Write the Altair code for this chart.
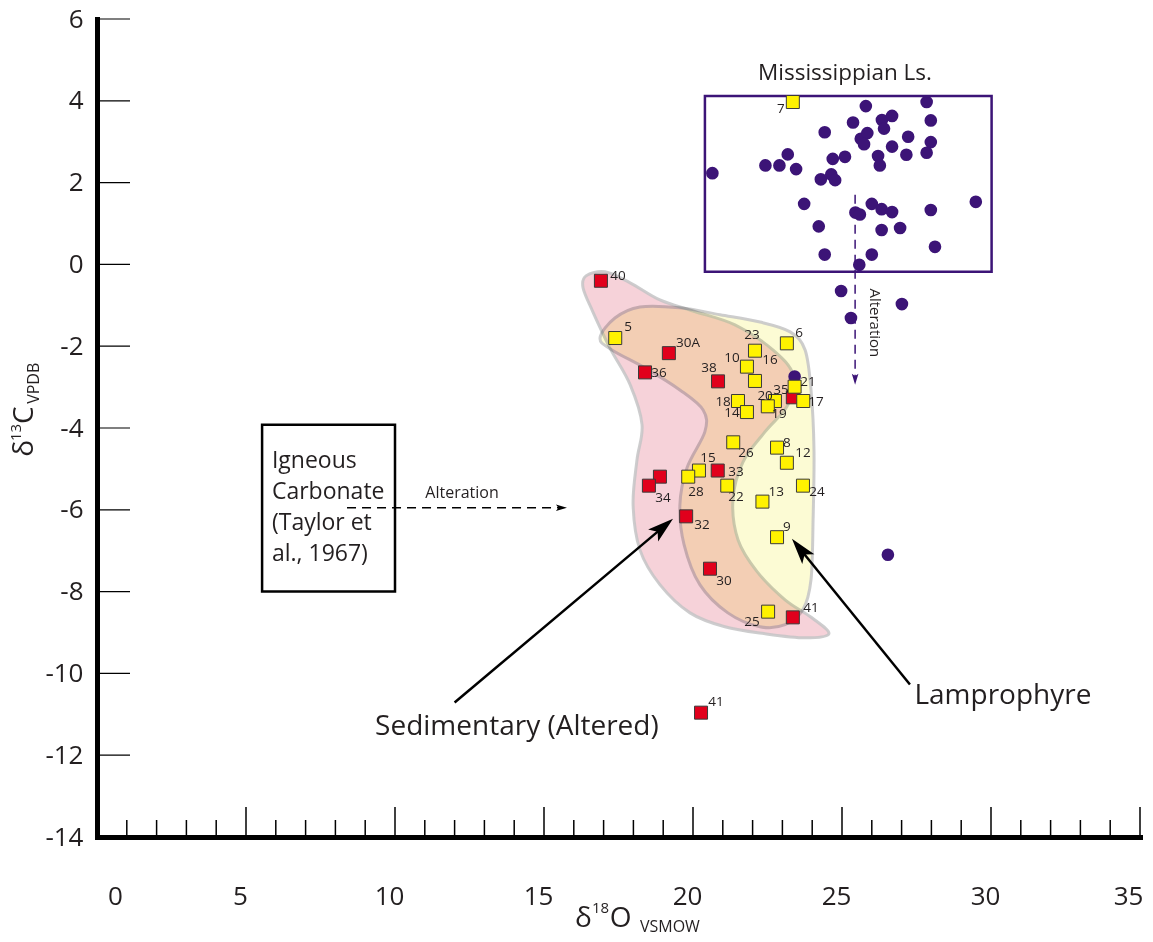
import math
import altair as alt
import pandas as pd

# ---------------- data ----------------
# Lamprophyre samples (yellow squares)
yel_id = ["5", "23", "10", "16", "6", "21", "20", "19", "17", "18", "14", "26", "8", "12",
          "15", "28", "22", "24", "13", "9", "25", "7"]
yel_x = [17.39, 22.08, 21.81, 22.08, 23.15, 23.41, 22.75, 22.51, 23.70, 21.51, 21.81, 21.35,
         22.82, 23.15, 20.20, 19.84, 21.15, 23.69, 22.33, 22.82, 22.52, 23.35]
yel_y = [-1.80, -2.11, -2.50, -2.85, -1.93, -2.99, -3.34, -3.47, -3.34, -3.34, -3.61, -4.35,
         -4.48, -4.85, -5.04, -5.19, -5.41, -5.41, -5.80, -6.67, -8.49, 3.97]

# Sedimentary (altered) samples (red squares)
red_id = ["40", "30A", "36", "38", "35", "33", "34", "34", "32", "30", "41", "41"]
red_x = [16.91, 19.19, 18.39, 20.84, 23.35, 20.83, 18.89, 18.52, 19.77, 20.57, 23.35, 20.27]
red_y = [-0.40, -2.17, -2.64, -2.86, -3.25, -5.04, -5.19, -5.41, -6.16, -7.44, -8.63, -10.96]

# Sample labels
lab_text = ["40", "5", "30A", "36", "38", "23", "10", "16", "6", "21", "35", "20", "19", "17",
            "18", "14", "26", "8", "12", "15", "28", "33", "34", "22", "24", "13", "32", "9",
            "30", "25", "41", "41", "7"]
lab_x = [17.48, 17.82, 19.83, 18.86, 20.54, 21.98, 21.31, 22.58, 23.56, 23.86, 22.95, 22.42,
         22.89, 24.13, 21.01, 21.31, 21.78, 23.15, 23.69, 20.50, 20.10, 21.44, 18.99, 21.44,
         24.16, 22.79, 20.30, 23.15, 21.04, 21.98, 23.96, 20.77, 22.95]
lab_y = [-0.28, -1.53, -1.92, -2.65, -2.53, -1.72, -2.28, -2.33, -1.67, -2.87, -3.07, -3.21,
         -3.65, -3.36, -3.36, -3.63, -4.61, -4.36, -4.61, -4.73, -5.56, -5.07, -5.71, -5.68,
         -5.56, -5.56, -6.37, -6.41, -7.73, -8.74, -8.39, -10.71, 3.80]

# Mississippian limestone (purple circles)
circ_x = [20.65, 22.43, 22.90, 23.18, 23.46, 24.42, 24.69, 25.10, 24.29, 24.64, 24.77, 25.37,
          25.80, 26.34, 26.68, 26.41, 25.63, 25.85, 25.74, 26.21, 26.27, 26.68, 27.22, 27.16,
          27.84, 27.98, 27.98, 27.84, 23.73, 24.22, 24.42, 25.58, 26.00, 26.00, 25.45, 25.60,
          26.33, 26.68, 26.33, 26.95, 27.98, 28.12, 29.49, 24.97, 25.30, 27.01, 26.54, 23.41]
circ_y = [2.23, 2.42, 2.42, 2.69, 2.33, 3.23, 2.58, 2.63, 2.08, 2.20, 2.06, 3.47,
          3.87, 3.53, 3.63, 3.32, 3.07, 3.21, 2.94, 2.65, 2.42, 2.88, 3.12, 2.68,
          3.97, 3.52, 2.99, 2.73, 1.48, 0.93, 0.24, -0.01, 0.24, 1.48, 1.27, 1.22,
          1.35, 1.28, 0.84, 0.89, 1.33, 0.43, 1.53, -0.65, -1.31, -0.97, -7.10, -2.74]

# Field outlines
sed_x = [16.41, 17.05, 17.89, 18.89, 20.00, 21.41, 22.68, 23.36, 23.19, 22.42, 21.68, 21.34,
         21.51, 22.15, 23.09, 23.99, 24.56, 23.76, 22.42, 21.07, 19.90, 18.89, 18.22, 17.99,
         18.12, 18.29, 17.89, 17.21, 16.64, 16.31]
sed_y = [-0.28, -0.18, -0.45, -0.87, -1.14, -1.48, -2.09, -2.70, -3.43, -4.09, -4.83, -5.75,
         -6.73, -7.51, -8.20, -8.64, -9.03, -9.13, -9.03, -8.86, -8.52, -7.83, -6.98, -5.88,
         -4.78, -3.92, -2.94, -2.04, -1.16, -0.57]
lam_x = [16.88, 17.38, 18.22, 19.56, 20.91, 22.25, 23.26, 23.76, 23.96, 24.06, 24.03, 23.96,
         23.69, 23.09, 22.25, 21.17, 20.23, 19.70, 19.56, 19.80, 20.40, 20.34, 19.56, 18.39,
         17.28]
lam_y = [-1.80, -1.31, -1.04, -1.06, -1.23, -1.41, -1.65, -2.09, -3.07, -4.53, -6.24, -7.71,
         -8.44, -8.81, -8.86, -8.52, -7.83, -6.85, -5.88, -4.97, -4.09, -3.56, -3.07, -2.53,
         -2.09]

# Boxes [x1, x2, y1, y2]
miss_box = [20.40, 30.02, 4.12, -0.18]
ign_box = [5.54, 10.00, -3.92, -8.00]

# Arrows (tail -> tip)
big_tail_x = [12.00, 27.28]
big_tail_y = [-10.71, -10.27]
big_tip_x = [19.33, 23.32]
big_tip_y = [-6.22, -6.71]
dash_tail_x = [8.39, 25.44]
dash_tail_y = [-5.95, 1.70]
dash_tip_x = [15.77, 25.44]
dash_tip_y = [-5.95, -2.94]

# Axis ticks
x_label_vals = [0, 5, 10, 15, 20, 25, 30, 35]
x_major = [5, 10, 15, 20, 25, 30, 35]
x_minor = [v for v in range(1, 35) if v % 5 != 0]
y_label_vals = [-14, -12, -10, -8, -6, -4, -2, 0, 2, 4, 6]
y_tick_vals = [-12, -10, -8, -6, -4, -2, 0, 2, 4, 6]

# ---------------- layout ----------------
W, H = 1043, 818
X_DOM = [0, 35]
Y_DOM = [-14, 6]
PX_X = W / (X_DOM[1] - X_DOM[0])
PX_Y = H / (Y_DOM[1] - Y_DOM[0])
FONT = "Open Sans"
INK = "#231f20"
PURPLE = "#3c1477"

xs = alt.Scale(domain=X_DOM, nice=False, zero=False)
ys = alt.Scale(domain=Y_DOM, nice=False, zero=False)

x_axis = alt.Axis(values=x_label_vals, title=None, grid=False, ticks=False, tickSize=0,
                  domainColor="black", domainWidth=5, domainCap="square",
                  labelFont=FONT, labelFontSize=26, labelColor=INK, labelPadding=59,
                  labelBaseline="middle", labelFlush=False, labelOverlap=False,
                  labelExpr="'' + datum.value",
                  labelOffset={"condition": [{"test": "datum.value == 0", "value": 18},
                                             {"test": "datum.value == 35", "value": -12}],
                               "value": -6})
y_axis = alt.Axis(values=y_label_vals, title=None, grid=False, ticks=False, tickSize=0,
                  domainColor="black", domainWidth=5, domainCap="square",
                  labelFont=FONT, labelFontSize=26, labelColor=INK, labelPadding=14,
                  labelAlign="right", labelBaseline="middle", labelFlush=False,
                  labelOverlap=False, labelExpr="'' + datum.value")


def X(f="x"):
    return alt.X(f"{f}:Q", scale=xs, axis=x_axis, title=None)


def Y(f="y"):
    return alt.Y(f"{f}:Q", scale=ys, axis=y_axis, title=None)


# ---- x ticks ----
xt = pd.DataFrame({"x": x_major + x_minor,
                   "len": [30] * len(x_major) + [17] * len(x_minor)})
xt["y"] = Y_DOM[0]
xt["y2"] = Y_DOM[0] + xt["len"] / PX_Y
xticks = alt.Chart(xt).mark_rule(color="black", strokeWidth=1.5).encode(
    x=X(), y=Y(), y2="y2:Q")

yt = pd.DataFrame({"y": y_tick_vals})
yt["x"] = X_DOM[0]
yt["x2"] = X_DOM[0] + 33 / PX_X
yticks = alt.Chart(yt).mark_rule(color="black", strokeWidth=1.2).encode(
    x=X(), x2="x2:Q", y=Y())

# ---- fields ----
sed_df = pd.DataFrame({"x": sed_x, "y": sed_y, "i": range(len(sed_x))})
lam_df = pd.DataFrame({"x": lam_x, "y": lam_y, "i": range(len(lam_x))})
sed_field = alt.Chart(sed_df).mark_line(
    interpolate="cardinal-closed", fill="#f6d2d9", stroke="#c4c4c6", strokeWidth=3,
    strokeOpacity=0.85).encode(x=X(), y=Y(), order="i:Q")
lam_field = alt.Chart(lam_df).mark_line(
    interpolate="cardinal-closed", fill="#fcfbd4", stroke="#c4c4c6", strokeWidth=3,
    strokeOpacity=0.85, blend="multiply").encode(x=X(), y=Y(), order="i:Q")

# ---- boxes ----
box_df = pd.DataFrame({"x": [miss_box[0], ign_box[0]], "x2": [miss_box[1], ign_box[1]],
                       "y": [miss_box[2], ign_box[2]], "y2": [miss_box[3], ign_box[3]],
                       "c": ["m", "i"]})
boxes = alt.Chart(box_df).mark_rect(fillOpacity=0, strokeWidth=2.5).encode(
    x=X(), x2="x2:Q", y=Y(), y2="y2:Q",
    stroke=alt.Stroke("c:N", scale=alt.Scale(domain=["m", "i"], range=[PURPLE, "black"]),
                      legend=None))


# ---- arrows ----
def head_table(tx, ty, hx, hy, L):
    rows = []
    for a, b, c, d in zip(tx, ty, hx, hy):
        dx = (c - a) * PX_X
        dy = -(d - b) * PX_Y
        n = math.hypot(dx, dy)
        ux, uy = dx / n, dy / n
        ang = math.degrees(math.atan2(ux, -uy)) % 360
        cx = c - (L / 2) * ux / PX_X
        cy = d + (L / 2) * uy / PX_Y
        rows.append({"x": a, "y": b, "x2": cx, "y2": cy, "hx": cx, "hy": cy, "ang": ang})
    return pd.DataFrame(rows)


HEAD = "M0,-1L0.6,1L0,0.55L-0.6,1Z"
big = head_table(big_tail_x, big_tail_y, big_tip_x, big_tip_y, 26)
big_lines = alt.Chart(big).mark_rule(color="black", strokeWidth=2.5).encode(
    x=X(), y=Y(), x2="x2:Q", y2="y2:Q")
big_heads = alt.Chart(big).mark_point(shape=HEAD, filled=True, color="black", opacity=1,
                                      size=26 * 26).encode(
    x=X("hx"), y=Y("hy"), angle=alt.Angle("ang:Q", scale=None))

dsh = head_table(dash_tail_x, dash_tail_y, dash_tip_x, dash_tip_y, 11)
dsh["c"] = ["k", "p"]
cscale = alt.Scale(domain=["k", "p"], range=["black", PURPLE])
dash_lines = alt.Chart(dsh).mark_rule(strokeWidth=1.5, strokeDash=[9, 6]).encode(
    x=X(), y=Y(), x2="x2:Q", y2="y2:Q", color=alt.Color("c:N", scale=cscale, legend=None))
dash_heads = alt.Chart(dsh).mark_point(shape=HEAD, filled=True, opacity=1,
                                       size=11 * 11).encode(
    x=X("hx"), y=Y("hy"), angle=alt.Angle("ang:Q", scale=None),
    color=alt.Color("c:N", scale=cscale, legend=None))

# ---- points ----
circ_df = pd.DataFrame({"x": circ_x, "y": circ_y})
circles = alt.Chart(circ_df).mark_circle(size=160, color=PURPLE, opacity=1).encode(
    x=X(), y=Y())
red_df = pd.DataFrame({"x": red_x, "y": red_y, "id": red_id})
reds = alt.Chart(red_df).mark_square(size=169, filled=True, color="#e1001c", opacity=1,
                                     stroke="#3a3a3a", strokeWidth=1).encode(x=X(), y=Y())
yel_df = pd.DataFrame({"x": yel_x, "y": yel_y, "id": yel_id})
yels = alt.Chart(yel_df).mark_square(size=169, filled=True, color="#fff200", opacity=1,
                                     stroke="#3a3a3a", strokeWidth=1).encode(x=X(), y=Y())

lab_df = pd.DataFrame({"x": lab_x, "y": lab_y, "t": lab_text})
labels = alt.Chart(lab_df).mark_text(font=FONT, fontSize=13.5, color=INK, align="center",
                                     baseline="middle").encode(x=X(), y=Y(), text="t:N")

# ---- annotation texts ----
center_txt = pd.DataFrame({
    "t": ["Mississippian Ls.", "Alteration", "Sedimentary (Altered)", "Lamprophyre"],
    "x": [25.10, 12.25, 14.09, 30.40],
    "y": [4.50, -5.70, -11.50, -10.76],
    "fs": [22.5, 16, 28, 28],
})
ann = alt.Chart(center_txt).mark_text(font=FONT, color=INK, align="center",
                                      baseline="alphabetic").encode(
    x=X(), y=Y(), text="t:N", size=alt.Size("fs:Q", scale=None, legend=None))

alt_v = alt.Chart(pd.DataFrame({"x": [26.11], "y": [-1.43], "t": ["Alteration"]})).mark_text(
    font=FONT, fontSize=15, color=INK, angle=90, align="center", baseline="middle").encode(
    x=X(), y=Y(), text="t:N")

ign = alt.Chart(pd.DataFrame({"x": [5.87], "y": [-4.97],
                              "t": ["Igneous\nCarbonate\n(Taylor et\nal., 1967)"]})).mark_text(
    font=FONT, fontSize=23, color=INK, align="left", baseline="alphabetic",
    lineBreak="\n", lineHeight=31).encode(x=X(), y=Y(), text="t:N")

# ---- axis titles (with super/subscripts) ----
tit = pd.DataFrame({
    "t": ["δ", "13", "C", "VPDB", "δ", "18", "O", "VSMOW"],
    "x": [-2.15, -2.56, -2.15, -1.95, 16.04, 16.61, 17.21, 18.22],
    "y": [-4.70, -4.32, -3.90, -3.41, -16.19, -15.85, -16.19, -16.33],
    "fs": [28, 15, 28, 16, 28, 15, 28, 16],
    "ang": [270, 270, 270, 270, 0, 0, 0, 0],
})
titles = alt.Chart(tit).mark_text(font=FONT, color=INK, align="left",
                                  baseline="alphabetic").encode(
    x=X(), y=Y(), text="t:N", size=alt.Size("fs:Q", scale=None, legend=None),
    angle=alt.Angle("ang:Q", scale=None))

chart = alt.layer(
    xticks, sed_field, lam_field, yticks, boxes, dash_lines, dash_heads, big_lines, big_heads,
    circles, reds, yels, labels, ann, alt_v, ign, titles,
).resolve_scale(color="independent", stroke="independent").properties(
    width=W, height=H,
    autosize=alt.AutoSizeParams(type="none"),
    padding={"left": 89, "top": 11, "right": 5, "bottom": 97},
).configure_view(stroke=None)

chart.save("out.html", embed_options={"renderer": "svg", "actions": False})
